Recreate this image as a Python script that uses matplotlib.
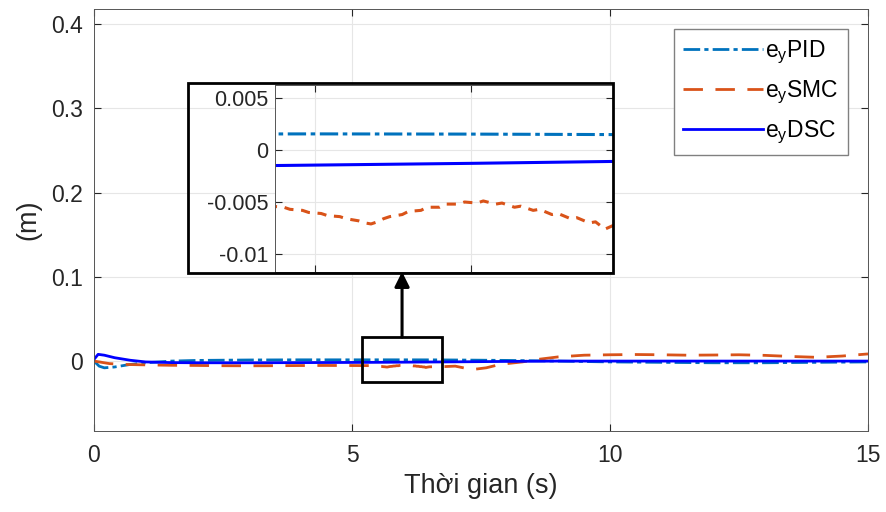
import matplotlib
matplotlib.use('Agg')
import matplotlib.pyplot as plt
from matplotlib.patches import Rectangle

plt.rcParams['font.family'] = ['Liberation Sans', 'DejaVu Sans']
plt.rcParams['mathtext.default'] = 'regular'
plt.rcParams['axes.unicode_minus'] = False

# e_y PID
t_pid = [0, 0.1, 0.2, 0.4, 0.7, 1.0, 1.5, 2, 3, 4, 5, 5.5, 6, 6.5, 7, 8, 9, 10, 11, 12, 13, 14, 15]
e_pid = [0, -0.006, -0.008, -0.007, -0.004, -0.002, 0, 0.0008, 0.0013, 0.0015, 0.0015, 0.00152, 0.0015,
         0.00145, 0.0013, 0.0008, 0, -0.001, -0.0015, -0.002, -0.002, -0.0015, -0.001]

# e_y DSC
t_dsc = [0, 0.08, 0.2, 0.4, 0.7, 1.0, 1.5, 2, 3, 4, 5, 5.4, 6, 6.5, 7, 8, 9, 10, 12, 15]
e_dsc = [0.002, 0.008, 0.007, 0.004, 0.001, -0.001, -0.0018, -0.002, -0.002, -0.0018, -0.0016, -0.0015,
         -0.0013, -0.0011, -0.0009, -0.0004, 0, 0, 0, 0]

# e_y SMC
t_smc = [0, 0.1, 0.3, 0.6, 1.0, 1.5, 2, 2.5, 3, 3.5, 4, 4.5, 5,
         5.36, 5.40, 5.42, 5.46, 5.48, 5.52, 5.54, 5.58, 5.60, 5.64, 5.66, 5.68, 5.70, 5.72, 5.74,
         5.78, 5.80, 5.84, 5.86, 5.90, 5.92, 5.96, 5.98, 6.02, 6.04, 6.08, 6.10, 6.14, 6.16, 6.20,
         6.22, 6.26, 6.28, 6.32, 6.34, 6.38, 6.40, 6.43, 6.46, 6.50,
         6.8, 7.0, 7.2, 7.4, 7.6, 7.8, 8.0, 8.3, 8.6, 9.0, 9.5, 10, 10.5, 11, 11.5, 12, 12.5, 13,
         13.5, 14, 14.5, 15]
e_smc = [0, -0.001, -0.003, -0.004, -0.0045, -0.005, -0.0052, -0.0055, -0.0056, -0.0055, -0.0053,
         -0.0052, -0.0053,
         -0.0054, -0.0055, -0.0057, -0.0058, -0.0060, -0.0061, -0.0063, -0.0064, -0.0066, -0.0068,
         -0.0070, -0.0071, -0.0069, -0.0066, -0.0064, -0.0062, -0.0059, -0.0058, -0.0055, -0.0055,
         -0.0052, -0.0052, -0.0050, -0.0051, -0.0049, -0.0052, -0.0051, -0.0055, -0.0054, -0.0058,
         -0.0057, -0.0062, -0.0061, -0.0066, -0.0065, -0.0070, -0.0069, -0.0076, -0.0072, -0.0068,
         -0.0065, -0.006, -0.0085, -0.0095, -0.008, -0.005, -0.003, -0.001, 0.002, 0.005, 0.007,
         0.0075, 0.0078, 0.0075, 0.007, 0.0072, 0.0075, 0.0068, 0.0055, 0.0045, 0.006, 0.0085]

labels = ['e$_y$PID', 'e$_y$SMC', 'e$_y$DSC']
x_ticks = [0, 5, 10, 15]
y_ticks = [0, 0.1, 0.2, 0.3, 0.4]
y_ticklabels = ['0', '0.1', '0.2', '0.3', '0.4']
inset_yticks = [0.005, 0, -0.005, -0.01]
inset_yticklabels = ['0.005', '0', '-0.005', '-0.01']

c_pid = '#0072BD'
c_smc = '#D95319'
c_dsc = '#0000FF'
ls_pid = (0, (6, 1.5, 1.5, 1.5))
ls_smc = (0, (7, 4.5))
txt = '#262626'

fig = plt.figure(figsize=(8.87, 5.12), dpi=100)
ax = fig.add_axes([94/887, 81/512, 774/887, 422/512])

ax.plot(t_pid, e_pid, color=c_pid, ls=ls_pid, lw=2, label=labels[0])
ax.plot(t_smc, e_smc, color=c_smc, ls=ls_smc, lw=2, label=labels[1])
ax.plot(t_dsc, e_dsc, color=c_dsc, lw=2, label=labels[2])

ax.set_xlim(0, 15)
ax.set_ylim(-0.083, 0.418)
ax.set_xticks(x_ticks)
ax.set_yticks(y_ticks)
ax.set_yticklabels(y_ticklabels)
ax.grid(True, color='#e6e6e6', lw=0.8)
ax.set_axisbelow(True)
ax.tick_params(direction='in', top=True, right=True, labelsize=16.5, colors=txt, length=5)
ax.tick_params(axis='x', pad=9)
ax.tick_params(axis='y', pad=8)
for s in ax.spines.values():
    s.set_color('#555555')
    s.set_linewidth(0.7)
ax.set_xlabel('Thời gian (s)', fontsize=19.5, color=txt, labelpad=5)
ax.set_ylabel('(m)', fontsize=19.5, color=txt, labelpad=7)

leg = ax.legend(loc='upper right', fontsize=16.5, handlelength=3.5, labelspacing=0.55,
                fancybox=False, framealpha=1, edgecolor='#808080', borderpad=0.4,
                handletextpad=0.1, borderaxespad=0, bbox_to_anchor=(754/774, 1 - 20/422))
leg.get_frame().set_linewidth(1)

# zoom box and arrow
ax.add_patch(Rectangle((5.19, -0.025), 1.55, 0.0535, fill=False, lw=2, ec='black', zorder=5))
ax.annotate('', xy=(5.97, 0.106), xytext=(5.97, 0.0285),
            arrowprops=dict(arrowstyle='-|>', lw=2.2, color='black', mutation_scale=22,
                            shrinkA=0, shrinkB=0), zorder=5)

# inset
axi = fig.add_axes([275/887, 240/512, 338/887, 187/512])
axi.plot(t_pid, e_pid, color=c_pid, ls=ls_pid, lw=2.2)
axi.plot(t_smc, e_smc, color=c_smc, ls=(0, (3, 2.5)), lw=2.2)
axi.plot(t_dsc, e_dsc, color=c_dsc, lw=2.2)
axi.set_xlim(5.372, 6.456)
axi.set_ylim(-0.0117, 0.0062)
axi.set_xticks([5.5, 6.0])
axi.set_xticklabels([])
axi.set_yticks(inset_yticks)
axi.set_yticklabels(inset_yticklabels)
axi.grid(True, color='#e6e6e6', lw=0.8)
axi.tick_params(direction='in', top=True, right=True, labelsize=15.5, colors=txt, length=5, pad=5)
for s in axi.spines.values():
    s.set_color('#555555')
    s.set_linewidth(0.7)

fig.add_artist(Rectangle((188/887, (512-273)/512), 425/887, 190/512, transform=fig.transFigure,
                         fill=False, lw=2, ec='black'))

fig.savefig('out.png', dpi=100)
